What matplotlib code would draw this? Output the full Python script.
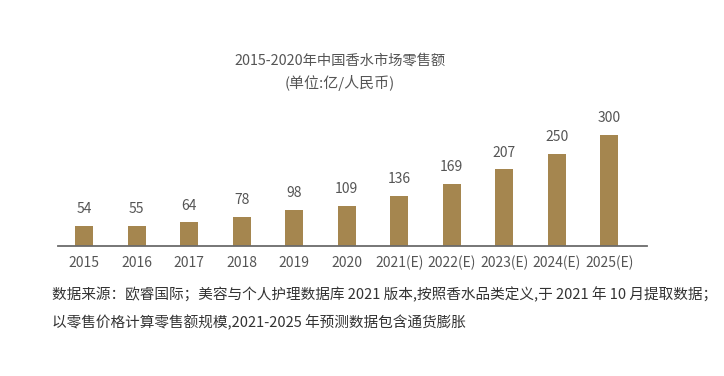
import matplotlib
matplotlib.use("Agg")
import matplotlib.pyplot as plt

plt.rcParams['font.family'] = ['Noto Sans CJK SC', 'DejaVu Sans']

# data
years = ["2015", "2016", "2017", "2018", "2019", "2020",
         "2021(E)", "2022(E)", "2023(E)", "2024(E)", "2025(E)"]
sales = [54, 55, 64, 78, 98, 109, 136, 169, 207, 250, 300]

title = "2015-2020年中国香水市场零售额"
unit = "(单位:亿/人民币)"
note1 = "数据来源：欧睿国际；美容与个人护理数据库 2021 版本,按照香水品类定义,于 2021 年 10 月提取数据；"
note2 = "以零售价格计算零售额规模,2021-2025 年预测数据包含通货膨胀"

text_color = "#555555"
bar_color = "#A5864F"

fig = plt.figure(figsize=(7.24, 3.76), dpi=100)
ax = fig.add_axes([58 / 724, 130 / 376, 589 / 724, 122 / 376])

x = list(range(len(years)))
bars = ax.bar(x, sales, width=0.34, color=bar_color)

# value labels above bars
for xi, v in zip(x, sales):
    ax.annotate(str(v), (xi, v), xytext=(0, 7), textcoords="offset points",
                ha="center", va="bottom", fontsize=10, color=text_color)

ax.set_xlim(-0.5, 10.72)
ax.set_ylim(0, 330)
ax.set_xticks(x)
ax.set_xticklabels(years, fontsize=10, color=text_color)
ax.tick_params(axis="x", length=0, pad=7)
ax.set_yticks([])
for side in ["top", "right", "left"]:
    ax.spines[side].set_visible(False)
ax.spines["bottom"].set_color("#6b6b6b")
ax.spines["bottom"].set_linewidth(1.3)

fig.text(340 / 724, 1 - 61 / 376, title, ha="center", va="center",
         fontsize=10.3, color=text_color)
fig.text(340 / 724, 1 - 83 / 376, unit, ha="center", va="center",
         fontsize=10.8, color=text_color)

fig.text(52 / 724, 1 - 295 / 376, note1, ha="left", va="center",
         fontsize=10.55, color="#333333")
fig.text(52 / 724, 1 - 323 / 376, note2, ha="left", va="center",
         fontsize=10.55, color="#333333")

fig.savefig("out.png", dpi=100, facecolor="white")
